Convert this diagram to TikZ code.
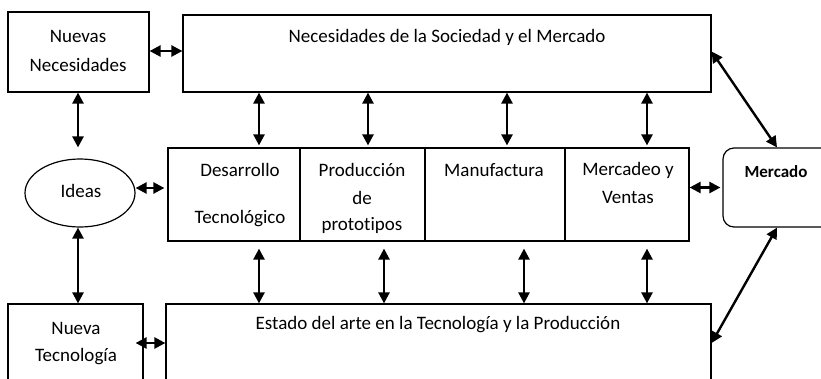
\documentclass[tikz,border=0pt]{standalone}
\usepackage{fontspec}
\setmainfont{Carlito}[Ligatures=NoCommon]
\usetikzlibrary{arrows.meta,shapes.geometric}
\begin{document}
\begin{tikzpicture}[x=1pt,y=-1pt,
  box/.style={draw,line width=1.2pt,rectangle,inner sep=0pt},
  arr/.style={line width=2.4pt,{Triangle[width=11pt,length=11pt]}-{Triangle[width=11pt,length=11pt]}},
  lbl/.style={inner sep=0pt,font=\fontsize{19}{21}\selectfont}]
\useasboundingbox (0,0) rectangle (821,378);
\clip (0,0) rectangle (821,378);
% boxes
\node[box,minimum width=141pt,minimum height=80pt] (nn) at (78.5,52) {};
\node[box,minimum width=528pt,minimum height=77pt] (top) at (447,53.5) {};
\node[draw,line width=1.2pt,ellipse,minimum width=110pt,minimum height=68pt,inner sep=0pt] (ideas) at (80,193) {};
\node[box,minimum width=132pt,minimum height=93pt] (m1) at (234,194.5) {};
\node[box,minimum width=125pt,minimum height=93pt] (m2) at (362.5,194.5) {};
\node[box,minimum width=140pt,minimum height=93pt] (m3) at (495,194.5) {};
\node[box,minimum width=124pt,minimum height=93pt] (m4) at (627,194.5) {};
\node[box,rounded corners=11pt,minimum width=117pt,minimum height=79pt] (mercado) at (781.5,187.5) {};
\node[box,minimum width=545pt,minimum height=96pt] (bottom) at (438.5,352) {};
\node[box,minimum width=135pt,minimum height=96pt] (nt) at (75.5,352) {};
% texts
\node[lbl] (t1) at (78,36) {Nuevas};
\node[lbl] (t2) at (78,65) {Necesidades};
\node[lbl] (t3) at (447,37) {Necesidades de la Sociedad y el Mercado};
\node[lbl] (t4) at (81,191) {Ideas};
\node[lbl] (t5) at (240,170) {Desarrollo};
\node[lbl] (t6) at (240,219) {Tecnológico};
\node[lbl] (t7) at (362,170) {Producción};
\node[lbl] (t8) at (362,198) {de};
\node[lbl] (t9) at (362,225) {prototipos};
\node[lbl] (t10) at (494,170) {Manufactura};
\node[lbl] (t11) at (628,170) {Mercadeo y};
\node[lbl] (t12) at (628,197) {Ventas};
\node[lbl,font=\fontsize{17}{20}\selectfont\bfseries] (t13) at (776,172) {Mercado};
\node[lbl] (t14) at (438,325) {Estado del arte en la Tecnología y la Producción};
\node[lbl] (t15) at (76,328) {Nueva};
\node[lbl] (t16) at (76,357) {Tecnología};
% connectors
\draw[arr] ([yshift=1pt]nn.east) -- ([yshift=1pt]nn.east -| top.west);
\draw[arr] ([xshift=-0.5pt]nn.south) -- ([yshift=11pt,xshift=-2pt]ideas.north);
\draw[arr] ([xshift=-2pt]ideas.south) -- ([xshift=-2pt]ideas.south |- nt.north);
\draw[arr,shorten >=3pt] ([yshift=5pt]ideas.east) -- ([yshift=5pt]ideas.east -| m1.west);
\foreach \m/\dx in {m1/25,m2/5.5,m3/12,m4/20}{
  \draw[arr,shorten >=2pt] ([xshift=\dx pt]\m.north |- top.south) -- ([xshift=\dx pt]\m.north);
}
\foreach \m/\dx in {m1/25,m2/21.5,m3/29,m4/20}{
  \draw[arr,shorten <=7pt] ([xshift=\dx pt]\m.south) -- ([xshift=\dx pt]\m.south |- bottom.north);
}
\draw[arr,shorten >=2pt] ([yshift=7pt]m4.east) -- ([yshift=7pt]m4.east -| mercado.west);
\draw[arr] ([yshift=2pt]top.east) -- ([xshift=-4.5pt]mercado.north);
\draw[arr] ([xshift=-4.5pt]mercado.south) -- ([yshift=9pt]bottom.east);
\draw[arr] ([yshift=9pt,xshift=-8pt]nt.east) -- ([yshift=9pt]nt.east -| bottom.west);
\end{tikzpicture}
\end{document}
